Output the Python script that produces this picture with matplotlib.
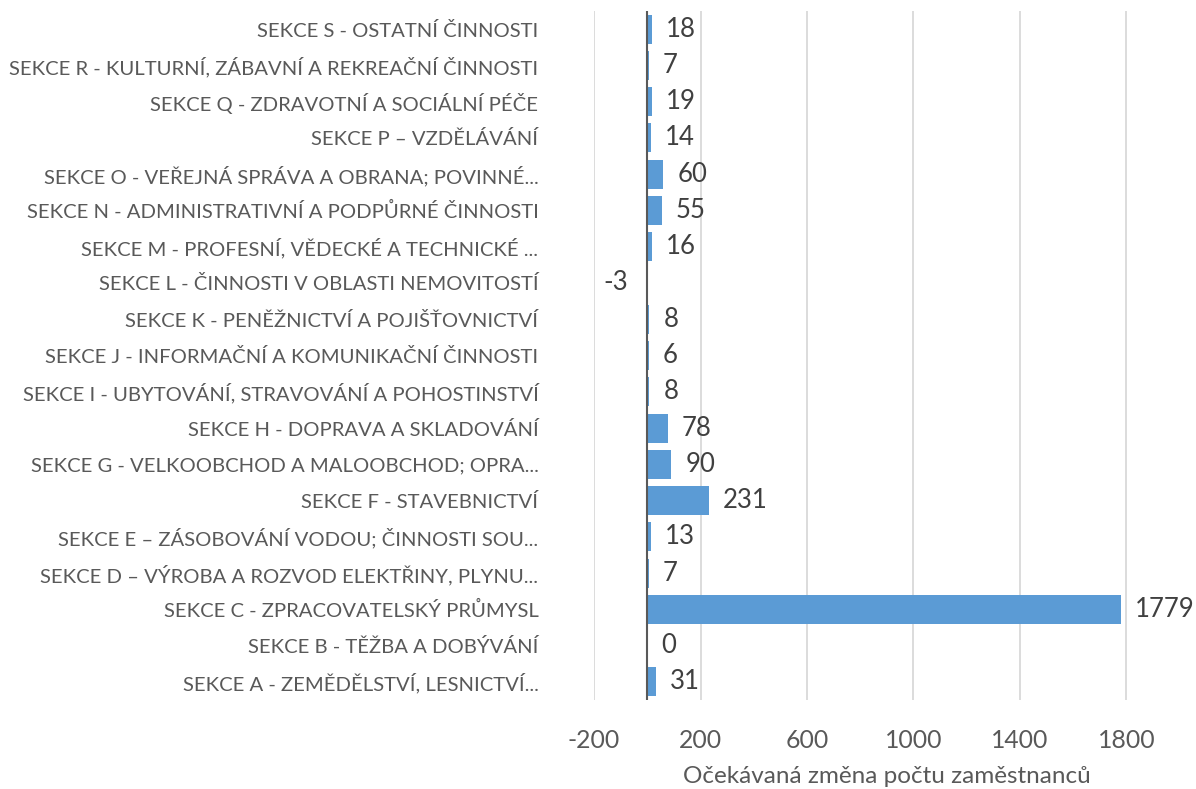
import matplotlib
matplotlib.use('Agg')
import matplotlib.pyplot as plt
import numpy as np

plt.rcParams['font.family'] = ['Lato', 'DejaVu Sans']

# Sections listed from bottom (A) to top (S)
sekce = [
    'SEKCE A - ZEMĚDĚLSTVÍ, LESNICTVÍ...',
    'SEKCE B - TĚŽBA A DOBÝVÁNÍ',
    'SEKCE C - ZPRACOVATELSKÝ PRŮMYSL',
    'SEKCE D – VÝROBA A ROZVOD ELEKTŘINY, PLYNU...',
    'SEKCE E – ZÁSOBOVÁNÍ VODOU; ČINNOSTI SOU...',
    'SEKCE F - STAVEBNICTVÍ',
    'SEKCE G - VELKOOBCHOD A MALOOBCHOD; OPRA...',
    'SEKCE H - DOPRAVA A SKLADOVÁNÍ',
    'SEKCE I - UBYTOVÁNÍ, STRAVOVÁNÍ A POHOSTINSTVÍ',
    'SEKCE J - INFORMAČNÍ A KOMUNIKAČNÍ ČINNOSTI',
    'SEKCE K - PENĚŽNICTVÍ A POJIŠŤOVNICTVÍ',
    'SEKCE L - ČINNOSTI V OBLASTI NEMOVITOSTÍ',
    'SEKCE M - PROFESNÍ, VĚDECKÉ A TECHNICKÉ ...',
    'SEKCE N - ADMINISTRATIVNÍ A PODPŮRNÉ ČINNOSTI',
    'SEKCE O - VEŘEJNÁ SPRÁVA A OBRANA; POVINNÉ...',
    'SEKCE P – VZDĚLÁVÁNÍ',
    'SEKCE Q - ZDRAVOTNÍ A SOCIÁLNÍ PÉČE',
    'SEKCE R - KULTURNÍ, ZÁBAVNÍ A REKREAČNÍ ČINNOSTI',
    'SEKCE S - OSTATNÍ ČINNOSTI',
]
zmena = [31, 0, 1779, 7, 13, 231, 90, 78, 8, 6, 8, -3, 16, 55, 60, 14, 19, 7, 18]

x_ticks = [-200, 200, 600, 1000, 1400, 1800]

bar_color = '#5B9BD5'
grid_color = '#D9D9D9'
text_gray = '#595959'
label_dark = '#404040'

fig = plt.figure(figsize=(11.96, 7.89), dpi=100)
ax = fig.add_axes([0.4967, 0.1128, 0.4896, 0.8733])

y = np.arange(len(sekce))
ax.barh(y, zmena, height=0.8, color=bar_color, zorder=3)
ax.axvline(0, color=text_gray, linewidth=1.5, zorder=4)

ax.set_xlim(-200, 2000)
ax.set_ylim(-0.5, len(sekce) - 0.5)
ax.set_xticks(x_ticks)
ax.set_xticklabels([str(t) for t in x_ticks])
ax.xaxis.grid(True, color=grid_color, linewidth=1.3, zorder=0)
ax.set_axisbelow(True)

ax.set_yticks(y)
ax.set_yticklabels(sekce)

for s in ax.spines.values():
    s.set_visible(False)
ax.tick_params(axis='both', length=0)
ax.tick_params(axis='y', pad=40, labelsize=14.6, labelcolor=text_gray)
ax.tick_params(axis='x', pad=21, labelsize=17.8, labelcolor=text_gray)

# value labels next to each bar end
for yi, v in zip(y, zmena):
    if v < 0:
        ax.annotate(str(v), (v, yi), xytext=(-13, 0), textcoords='offset points',
                    ha='right', va='center', fontsize=18.5, color=label_dark,
                    annotation_clip=False)
    else:
        ax.annotate(str(v), (v, yi), xytext=(10, 0), textcoords='offset points',
                    ha='left', va='center', fontsize=18.5, color=label_dark,
                    annotation_clip=False)

ax.set_xlabel('Očekávaná změna počtu zaměstnanců', fontsize=17.5,
              color=text_gray, labelpad=10)

fig.savefig('out.png', dpi=100)
